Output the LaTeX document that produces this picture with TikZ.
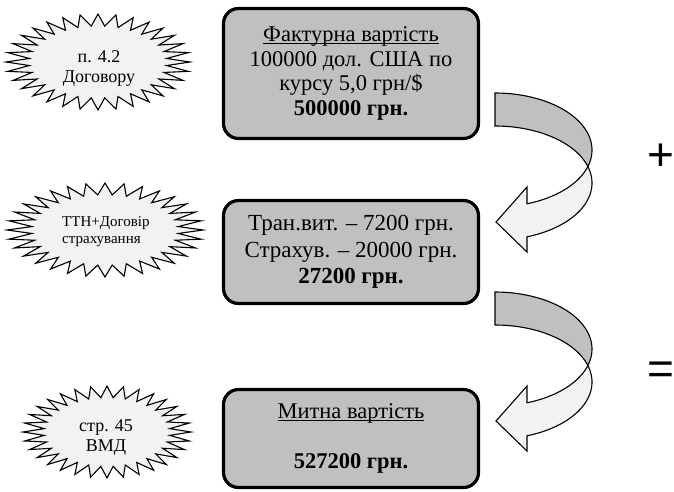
\documentclass[tikz,border=0pt]{standalone}
\usepackage{fontspec}
\setmainfont{Liberation Serif}
\newfontfamily\signfont{Liberation Sans}
\definecolor{boxgray}{HTML}{C0C0C0}
\definecolor{palegray}{HTML}{F2F2F2}

% underline at a fixed depth, crossing the descenders
\newcommand\wordul[1]{\setbox0\hbox{#1}\rlap{\rule[-2.6pt]{\wd0}{1.1pt}}\box0}

% 32-point starburst: centre (#1,#2), radii #3 and #4
\newcommand\starburst[4]{%
  \filldraw[burstshape] ({#1+#3},{#2})
    \foreach \i in {1,...,63}{
      -- ({#1+#3*(1-0.25*mod(\i,2))*cos(\i*5.625)},{#2+#4*(1-0.25*mod(\i,2))*sin(\i*5.625)})
    } -- cycle;}

% curved left arrow: dark back band and pale front band ending in a head
\newcommand\bentarrow{%
  \filldraw[backface]
    plot[domain=-90:16.83,samples=60] ({495+97*cos(\x)},{150+57*sin(\x)})
    -- plot[domain=-16.83:-90,samples=60] ({495+97*cos(\x)},{183+57*sin(\x)})
    -- cycle;
  \filldraw[frontface]
    plot[domain=16.83:70.74,samples=40] ({495+97*cos(\x)},{150+57*sin(\x)})
    -- (527,187) -- (496,222) -- (527,252)
    -- plot[domain=70.74:-16.83,samples=60] ({495+97*cos(\x)},{183+57*sin(\x)})
    -- cycle;}

\begin{document}
\begin{tikzpicture}[x=1pt,y=-1pt,
  valuebox/.style={draw=black, line width=3.2pt, fill=boxgray,
    rounded corners=15pt, minimum width=255pt, inner sep=0pt,
    align=center},
  burstshape/.style={draw=black, line width=1.1pt, fill=palegray, line join=miter},
  backface/.style={draw=black, line width=1.1pt, fill=boxgray},
  frontface/.style={draw=black, line width=1.1pt, fill=palegray},
  sourcetext/.style={inner sep=0pt, align=center},
  signtext/.style={inner sep=0pt, anchor=base, font=\signfont\fontsize{46}{46}\selectfont}]

\useasboundingbox (0,0) rectangle (674,491);

% value boxes
\node[valuebox, minimum height=130pt, font=\fontsize{22.5}{24.5}\selectfont]
  (invoice) at (351,73.5)
  {\wordul{Фактурна вартість}\\100000 дол. США по\\курсу 5,0 грн/\$\\\textbf{500000 грн.}};
\node[valuebox, minimum height=103pt, font=\fontsize{23}{26.5}\selectfont]
  (transport) at (351,252)
  {Тран.вит. – 7200 грн.\\Страхув. – 20000 грн.\\\textbf{27200 грн.}};
\node[valuebox, minimum height=98pt, font=\fontsize{22.5}{25}\selectfont]
  (customs) at (351,438.5)
  {\wordul{Митна вартість}\\[25pt]\textbf{527200 грн.}};

% document sources
\starburst{98}{62}{92}{48}
\node[sourcetext, font=\fontsize{18}{20}\selectfont] (src1) at (99,68) {п. 4.2\\Договору};
\starburst{105}{230}{98}{47}
\node[sourcetext, align=left, anchor=west, font=\fontsize{15}{17}\selectfont] (src2) at (62,231.5) {ТТН+Договір\\страхування};
\starburst{107}{432}{84}{46}
\node[sourcetext, font=\fontsize{18}{20}\selectfont] (src3) at (106,437.5) {стр. 45\\ВМД};

% curved arrows between the boxes
\begin{scope}
  \bentarrow
\end{scope}
\begin{scope}[shift={(0,199)}]
  \bentarrow
\end{scope}

% operation signs
\node[signtext] (plus) at (660.5,170.5) {+};
\node[signtext] (equals) at (660.5,384.5) {=};

\end{tikzpicture}
\end{document}
